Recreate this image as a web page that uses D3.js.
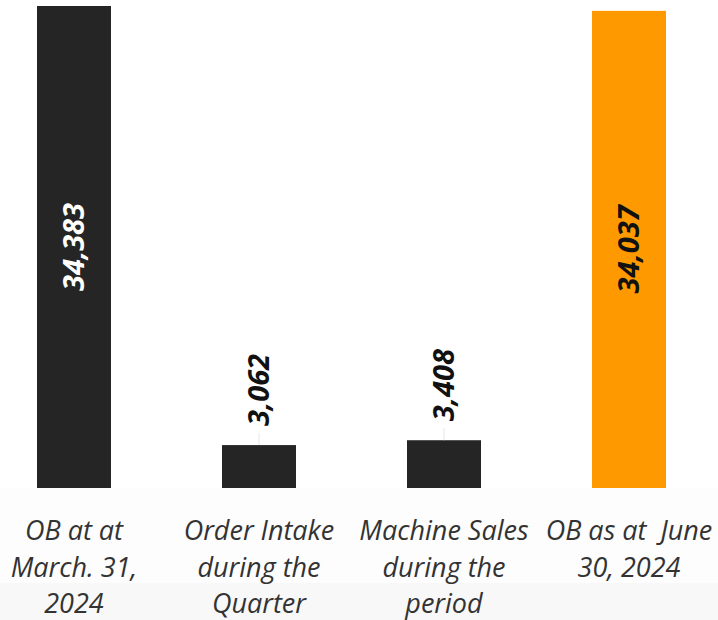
<!DOCTYPE html>
<html>
<head>
<meta charset="utf-8">
<script src="https://cdn.jsdelivr.net/npm/d3@7"></script>
<style>
  html, body { margin: 0; padding: 0; background: #fff; }
  svg { display: block; }
</style>
</head>
<body>
<svg id="chart"></svg>
<script>
// Order book bridge, Q1 FY25 (values as printed on the bars)
const categories = ["OB at at March. 31, 2024", "Order Intake during the Quarter",
  "Machine Sales during the period", "OB as at  June 30, 2024"];
const labelLines = [
  ["OB at at", "March. 31,", "2024"],
  ["Order Intake", "during the", "Quarter"],
  ["Machine Sales", "during the", "period"],
  ["OB as at  June", "30, 2024"],
];
const values = [34383, 3062, 3408, 34037];
const barColors = ["#252525", "#252525", "#252525", "#ff9900"];

const W = 718, H = 620;
const baseY = 488, topY = 6;
const svg = d3.select("#chart").attr("width", W).attr("height", H);

// faint grey bands under the plot
svg.append("rect").attr("x", 0).attr("y", baseY).attr("width", W)
  .attr("height", 95).attr("fill", "#fdfdfd");
svg.append("rect").attr("x", 0).attr("y", baseY + 95).attr("width", W)
  .attr("height", H - baseY - 95).attr("fill", "#f8f8f8");

const x = d3.scaleBand().domain(categories).range([37, 666])
  .paddingInner(0.6).paddingOuter(0);
const y = d3.scaleLinear().domain([0, 34383]).range([baseY, topY]);

svg.append("g").selectAll("rect").data(categories).join("rect")
  .attr("x", (c) => x(c)).attr("width", x.bandwidth())
  .attr("y", (c, i) => y(values[i]))
  .attr("height", (c, i) => baseY - y(values[i]))
  .attr("fill", (c, i) => barColors[i]);

// value labels: inside for tall bars, above for short ones
const fmt = d3.format(",");
const inside = (i) => values[i] > 10000;
svg.append("g").selectAll("line").data(categories.filter((c, i) => !inside(i)))
  .join("line")
  .attr("x1", (c) => x(c) + x.bandwidth() / 2).attr("x2", (c) => x(c) + x.bandwidth() / 2)
  .attr("y1", (c) => y(values[categories.indexOf(c)]) - 12)
  .attr("y2", (c) => y(values[categories.indexOf(c)]))
  .attr("stroke", "#e6e6e6").attr("stroke-width", 1);

svg.append("g").selectAll("text").data(categories).join("text")
  .attr("transform", (c, i) => {
    const cx = x(c) + x.bandwidth() / 2;
    const cy = inside(i) ? (y(values[i]) + baseY) / 2 : y(values[i]) - 19;
    return `translate(${cx},${cy}) rotate(-90)`;
  })
  .attr("text-anchor", (c, i) => inside(i) ? "middle" : "start")
  .attr("dy", "0.35em")
  .style("font-family", "'Open Sans', sans-serif")
  .style("font-size", "29px").style("font-weight", 700).style("font-style", "italic")
  .attr("fill", (c, i) => i === 0 ? "#ffffff" : "#111111")
  .text((c, i) => fmt(values[i]));

// category labels under the bars
const lab = svg.append("g").selectAll("text").data(categories).join("text")
  .attr("x", (c) => x(c) + x.bandwidth() / 2).attr("y", 540)
  .attr("text-anchor", "middle")
  .style("font-family", "'Open Sans', sans-serif")
  .style("font-size", "27px").style("font-style", "italic")
  .style("white-space", "pre")
  .attr("fill", "#333333");
lab.each(function (c, i) {
  d3.select(this).selectAll("tspan").data(labelLines[i]).join("tspan")
    .attr("x", x(c) + x.bandwidth() / 2)
    .attr("dy", (d, j) => j === 0 ? 0 : 36.5)
    .text((d) => d);
});
</script>
</body>
</html>
